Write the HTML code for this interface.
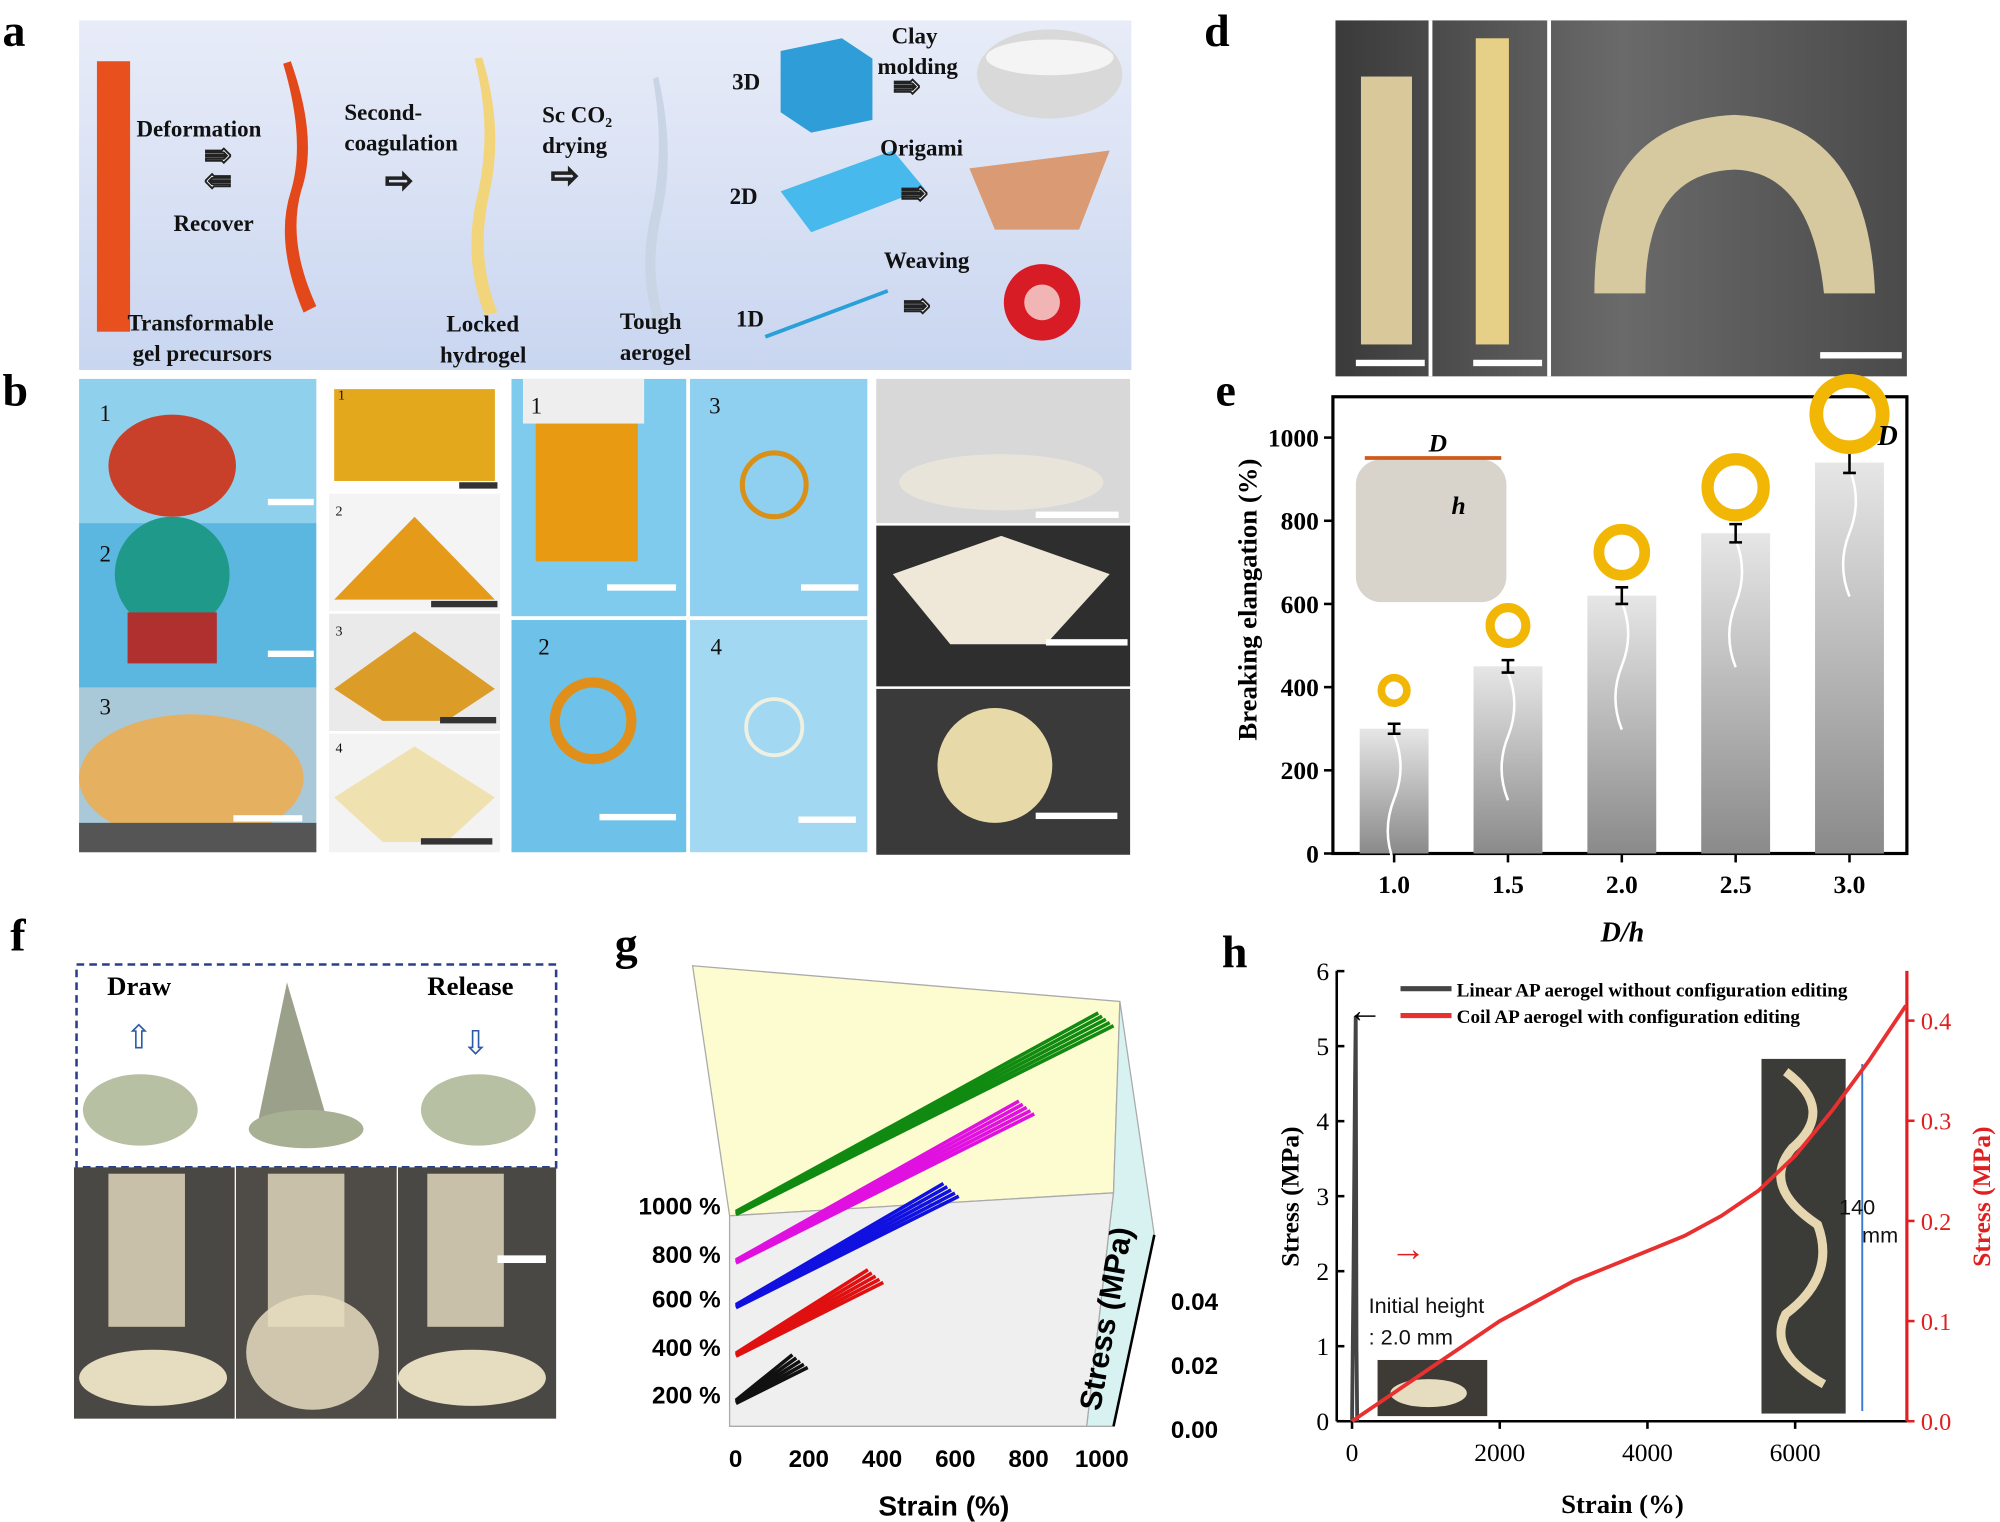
<!DOCTYPE html>
<html><head><meta charset="utf-8"><style>
html,body{margin:0;padding:0;background:#fff}
svg{display:block}
text{font-family:"Liberation Serif",serif}
.sans{font-family:"Liberation Sans",sans-serif}
</style></head><body>
<svg id="fig" width="2000" height="1522" viewBox="0 0 1568 1193" preserveAspectRatio="none" xmlns="http://www.w3.org/2000/svg">
<defs>
<linearGradient id="gA" x1="0" y1="0" x2="0" y2="1"><stop offset="0" stop-color="#e8ecf8"/><stop offset="1" stop-color="#c9d6f0"/></linearGradient>
<linearGradient id="gBar" x1="0" y1="0" x2="0" y2="1"><stop offset="0" stop-color="#e6e6e6"/><stop offset="1" stop-color="#8a8a8a"/></linearGradient>
<linearGradient id="gD" x1="0" y1="0" x2="1" y2="0"><stop offset="0" stop-color="#3a3a3a"/><stop offset="0.5" stop-color="#6a6a6a"/><stop offset="1" stop-color="#4a4a4a"/></linearGradient>
</defs>
<g font-weight="bold" font-size="36">
<text x="2" y="36">a</text><text x="2" y="318">b</text><text x="690" y="325">c</text><text x="944" y="36">d</text><text x="953" y="318">e</text><text x="8" y="745">f</text><text x="482" y="752">g</text><text x="958" y="758">h</text>
</g>
<g>
<rect x="62" y="16" width="825" height="274" fill="url(#gA)"/>
<rect x="76" y="48" width="26" height="212" fill="#e8501e"/>
<path d="M228 48 Q250 110 236 150 Q225 190 248 240 L238 245 Q215 190 228 150 Q240 110 222 50Z" fill="#e2481a"/>
<path d="M378 45 Q395 100 384 150 Q372 200 390 245 L380 247 Q362 200 375 150 Q386 100 372 46Z" fill="#f2d57a"/>
<path d="M516 60 Q530 120 518 170 Q508 215 522 255 L514 256 Q500 215 510 170 Q522 120 512 62Z" fill="#c9d4e4"/>
<polygon points="612,40 660,30 684,46 684,94 636,104 612,88" fill="#2f9ed8"/>
<polygon points="612,150 700,118 725,148 636,182" fill="#47b9ec"/>
<line x1="600" y1="264" x2="696" y2="228" stroke="#2aa0da" stroke-width="3"/>
<ellipse cx="823" cy="58" rx="57" ry="35" fill="#d9d9d9"/><ellipse cx="823" cy="45" rx="50" ry="14" fill="#f4f4f4"/>
<polygon points="760,132 870,118 846,180 780,180" fill="#d99a74"/>
<circle cx="817" cy="237" r="30" fill="#d81c26"/><circle cx="817" cy="237" r="14" fill="#f2b5b5"/>
<g font-size="18" font-weight="bold" fill="#111">
<text x="107" y="107">Deformation</text><text x="136" y="181">Recover</text>
<text x="100" y="259">Transformable</text><text x="104" y="283">gel precursors</text>
<text x="270" y="94">Second-</text><text x="270" y="118">coagulation</text>
<text x="425" y="96">Sc CO₂</text><text x="425" y="120">drying</text>
<text x="350" y="260">Locked</text><text x="345" y="284">hydrogel</text>
<text x="486" y="258">Tough</text><text x="486" y="282">aerogel</text>
<text x="574" y="70">3D</text><text x="572" y="160">2D</text><text x="577" y="256">1D</text>
<text x="699" y="34">Clay</text><text x="688" y="58">molding</text>
<text x="690" y="122">Origami</text><text x="693" y="210">Weaving</text>
</g>
<g font-size="26" fill="#fff" stroke="#222" stroke-width="1.5">
<text x="160" y="130">⇛</text><text x="160" y="150">⇚</text><text x="302" y="150">⇨</text><text x="432" y="146">⇨</text>
<text x="700" y="76">⇛</text><text x="706" y="160">⇛</text><text x="708" y="248">⇛</text>
</g>
</g>
<g>
<rect x="1047" y="16" width="448" height="279" fill="url(#gD)"/>
<rect x="1120" y="16" width="3" height="279" fill="#fff"/><rect x="1213" y="16" width="3" height="279" fill="#fff"/>
<rect x="1067" y="60" width="40" height="210" fill="#d8c89a"/>
<rect x="1157" y="30" width="26" height="240" fill="#e6cf86"/>
<path d="M1250 230 Q1250 95 1360 90 Q1465 95 1470 230 L1430 230 Q1420 135 1360 133 Q1290 135 1290 230Z" fill="#d6c9a0"/>
<g fill="#fff"><rect x="1063" y="282" width="54" height="5"/><rect x="1155" y="282" width="54" height="5"/><rect x="1427" y="276" width="64" height="5"/></g>
</g>
<g>
<rect x="62" y="297" width="186" height="113" fill="#8fd0ec"/><rect x="62" y="410" width="186" height="129" fill="#5cb7e0"/><rect x="62" y="539" width="186" height="129" fill="#a9c9d8"/>
<ellipse cx="135" cy="365" rx="50" ry="40" fill="#c9402a"/><circle cx="135" cy="450" r="45" fill="#1f9a8a"/><rect x="100" y="480" width="70" height="40" fill="#b03030"/>
<ellipse cx="150" cy="610" rx="88" ry="50" fill="#e5b060"/><rect x="62" y="645" width="186" height="23" fill="#555"/>
<rect x="258" y="297" width="134" height="88" fill="#fdfdfd"/><rect x="258" y="387" width="134" height="92" fill="#f4f4f4"/><rect x="258" y="481" width="134" height="92" fill="#eaeaea"/><rect x="258" y="575" width="134" height="93" fill="#f3f3f3"/>
<rect x="262" y="305" width="126" height="72" fill="#e3a81c"/><polygon points="262,470 325,405 388,470" fill="#e59a1a"/><polygon points="262,540 325,495 388,540 350,565 300,565" fill="#dc9c28"/><polygon points="262,625 325,585 388,625 350,660 300,660" fill="#f0e2b0"/>
<rect x="401" y="297" width="137" height="186" fill="#7fcbee"/><rect x="541" y="297" width="139" height="186" fill="#8fd0f0"/><rect x="401" y="486" width="137" height="182" fill="#6ec2ea"/><rect x="541" y="486" width="139" height="182" fill="#a3d8f2"/>
<rect x="420" y="330" width="80" height="110" fill="#e89a12"/><rect x="410" y="297" width="95" height="35" fill="#eee"/>
<circle cx="465" cy="565" r="30" fill="none" stroke="#e0901a" stroke-width="8"/><circle cx="607" cy="380" r="25" fill="none" stroke="#d89018" stroke-width="4"/><circle cx="607" cy="570" r="22" fill="none" stroke="#f0f0e0" stroke-width="3"/>
<rect x="687" y="297" width="199" height="113" fill="#d8d8d8"/><rect x="687" y="412" width="199" height="126" fill="#2e2e2e"/><rect x="687" y="540" width="199" height="130" fill="#3a3a3a"/>
<ellipse cx="785" cy="378" rx="80" ry="22" fill="#e8e4da"/><polygon points="700,450 785,420 870,450 820,505 745,505" fill="#efe8d8"/><circle cx="780" cy="600" r="45" fill="#e7d9a8"/>
<g fill="#fff"><rect x="210" y="391" width="36" height="5"/><rect x="210" y="510" width="36" height="5"/><rect x="183" y="639" width="54" height="5"/><rect x="476" y="458" width="54" height="5"/><rect x="470" y="638" width="60" height="5"/><rect x="628" y="458" width="45" height="5"/><rect x="626" y="640" width="45" height="5"/><rect x="812" y="401" width="65" height="5"/><rect x="820" y="501" width="64" height="5"/><rect x="812" y="637" width="64" height="5"/></g>
<g fill="#333"><rect x="360" y="378" width="30" height="5"/><rect x="338" y="471" width="52" height="5"/><rect x="345" y="562" width="44" height="5"/><rect x="330" y="657" width="56" height="5"/></g>
<g font-size="18" class="sans" fill="#111"><text x="78" y="330">1</text><text x="78" y="440">2</text><text x="78" y="560">3</text><text x="416" y="324">1</text><text x="556" y="324">3</text><text x="422" y="513">2</text><text x="557" y="513">4</text></g>
<g font-size="11" class="sans" fill="#111"><text x="265" y="313">1</text><text x="263" y="404">2</text><text x="263" y="498">3</text><text x="263" y="590">4</text></g>
</g>
<g id="chartE">
<rect x="1045" y="311" width="450" height="358" fill="#fff" stroke="#000" stroke-width="2.5"/>
<text x="985" y="470" font-size="21" font-weight="bold" transform="rotate(-90 985 470)" text-anchor="middle">Breaking elangation (%)</text>
<text x="1272" y="738" font-size="22" font-weight="bold" font-style="italic" text-anchor="middle">D/h</text>
<rect x="1063" y="360" width="118" height="112" rx="20" fill="#d8d4cc"/>
<text x="1120" y="354" font-size="20" font-weight="bold" font-style="italic">D</text><text x="1138" y="403" font-size="20" font-weight="bold" font-style="italic">h</text>
<line x1="1070" y1="359" x2="1177" y2="359" stroke="#d05a1a" stroke-width="3"/>
</g>
<g>
<rect x="60" y="756" width="376" height="159" fill="#fff" stroke="#2a3f8a" stroke-width="2" stroke-dasharray="6,4"/>
<text x="84" y="780" font-size="21" font-weight="bold">Draw</text><text x="335" y="780" font-size="21" font-weight="bold">Release</text>
<ellipse cx="110" cy="870" rx="45" ry="28" fill="#b8c0a4"/><ellipse cx="375" cy="870" rx="45" ry="28" fill="#b8c0a4"/>
<polygon points="225,770 260,890 200,890" fill="#9aa08a"/><ellipse cx="240" cy="885" rx="45" ry="15" fill="#a8b094"/>
<text x="98" y="822" font-size="26" fill="#2a5aa8">⇧</text><text x="362" y="826" font-size="26" fill="#2a5aa8">⇩</text>
<rect x="58" y="915" width="126" height="197" fill="#4a4844"/><rect x="185" y="915" width="126" height="197" fill="#4f4c47"/><rect x="312" y="915" width="124" height="197" fill="#4a4844"/>
<rect x="85" y="920" width="60" height="120" fill="#c8c0a8"/><rect x="210" y="920" width="60" height="120" fill="#c8c0a8"/><rect x="335" y="920" width="60" height="120" fill="#c8c0a8"/>
<ellipse cx="120" cy="1080" rx="58" ry="22" fill="#e6dcc0"/><ellipse cx="245" cy="1060" rx="52" ry="45" fill="#e6dcc0" opacity="0.85"/><ellipse cx="370" cy="1080" rx="58" ry="22" fill="#e6dcc0"/>
<rect x="390" y="984" width="38" height="6" fill="#fff"/>
</g>
<g id="chartG">
<polygon points="543,757 878,785 873,935 572,953" fill="#fdfbd0" stroke="#aaa"/>
<polygon points="572,953 873,935 852,1118 572,1118" fill="#efefef" stroke="#aaa"/>
<polygon points="878,785 905,968 873,1118 852,1118 873,935" fill="#d8f2f2" stroke="#aaa"/>
<text x="875" y="1035" font-size="24" font-weight="bold" class="sans" transform="rotate(-80 875 1035)" text-anchor="middle">Stress (MPa)</text>
<text x="740" y="1188" font-size="22" font-weight="bold" class="sans" text-anchor="middle">Strain (%)</text>
</g>
<g id="chartH">
<text x="1018" y="938" font-size="20" font-weight="bold" transform="rotate(-90 1018 938)" text-anchor="middle">Stress (MPa)</text>
<text x="1560" y="938" font-size="20" font-weight="bold" fill="#e02020" transform="rotate(-90 1560 938)" text-anchor="middle">Stress (MPa)</text>
<text x="1272" y="1186" font-size="21" font-weight="bold" text-anchor="middle">Strain (%)</text>
<rect x="1381" y="830" width="66" height="278" fill="#3b3b38"/>
<path d="M1400 840 Q1440 870 1405 900 Q1380 930 1425 960 Q1440 1000 1400 1030 Q1385 1060 1430 1085" stroke="#e6d7b0" stroke-width="7" fill="none"/>
<rect x="1080" y="1066" width="86" height="44" fill="#3e3a35"/>
<ellipse cx="1120" cy="1092" rx="30" ry="11" fill="#e6dcc0"/>
<line x1="1460" y1="834" x2="1460" y2="1106" stroke="#3a7ad0" stroke-width="1.5"/>
<text x="1456" y="952" font-size="17" class="sans" text-anchor="middle" fill="#111">140</text><text x="1474" y="974" font-size="17" class="sans" text-anchor="middle" fill="#111">mm</text>
<text x="1073" y="1029" font-size="17" class="sans" fill="#111">Initial height</text><text x="1073" y="1054" font-size="17" class="sans" fill="#111">: 2.0 mm</text>
<line x1="1098" y1="775" x2="1138" y2="775" stroke="#444" stroke-width="4"/><text x="1142" y="781" font-size="15" font-weight="bold">Linear AP aerogel without configuration editing</text>
<line x1="1098" y1="796" x2="1138" y2="796" stroke="#e83030" stroke-width="4"/><text x="1142" y="802" font-size="15" font-weight="bold">Coil AP aerogel with configuration editing</text>
</g>
</svg>
<script>
const NS='http://www.w3.org/2000/svg';
function mk(p,tag,at){const e=document.createElementNS(NS,tag);for(const k in at)e.setAttribute(k,at[k]);p.appendChild(e);return e;}
const eCategories=['1.0','1.5','2.0','2.5','3.0'];
const eValues=[300,450,620,770,940];
const eErrors=[12,15,20,22,25];
const eTicks=[0,200,400,600,800,1000];
const gE=document.getElementById('chartE');
const eY=v=>669-v*0.326; const eX=i=>1093+i*89.25;
eTicks.forEach(t=>{
 const l=mk(gE,'line',{x1:1045,x2:1038,y1:eY(t),y2:eY(t),stroke:'#000','stroke-width':2});
 
 
 const tx=mk(gE,'text',{x:1034,y:eY(t)+7,'font-size':20,'font-weight':'bold','text-anchor':'end'});tx.textContent=t;
 
 
});
eCategories.forEach((c,i)=>{
 const x=eX(i),v=eValues[i];
 const b=mk(gE,'rect',{x:x-27,y:eY(v),width:54,height:669-eY(v),fill:'url(#gBar)'});
 
 
 mk(gE,'path',{d:`M${x} ${eY(v)+5} q10 25 0 50 q-10 25 0 50`,stroke:'#fff',fill:'none','stroke-width':2});
 const er=eErrors[i];
 mk(gE,'path',{d:`M${x} ${eY(v+er)}V${eY(v-er)}M${x-5} ${eY(v+er)}h10M${x-5} ${eY(v-er)}h10`,stroke:'#000','stroke-width':2,fill:'none'});
 const r=10+i*4;
 const ring=mk(gE,'circle',{cx:x,cy:eY(v)-30-i*2,r:r,fill:'none',stroke:'#f2b705','stroke-width':6+i*1.2});
 
 
 mk(gE,'line',{x1:x,x2:x,y1:669,y2:676,stroke:'#000','stroke-width':2});
 const tx=mk(gE,'text',{x:x,y:700,'font-size':20,'font-weight':'bold','text-anchor':'middle'});tx.textContent=c;
 
 
});
mk(gE,'text',{x:1472,y:349,'font-size':22,'font-weight':'bold','font-style':'italic'}).textContent='D';
const gLevels=['200 %','400 %','600 %','800 %','1000 %'];
const gMaxStrain=[190,390,590,790,1000];
const gColors=['#111','#e01010','#1010e0','#e010e0','#108a10'];
const gXTicks=[0,200,400,600,800,1000];
const gZTicks=['0.00','0.02','0.04'];
const G=document.getElementById('chartG');
const gBase=[1100,1063,1025,990,952];
const gPX=s=>577+s*0.296;
gLevels.forEach((lv,i)=>{
 const t=mk(G,'text',{x:565,y:gBase[i]+0,'font-size':19,'font-weight':'bold','class':'sans','text-anchor':'end'});t.textContent=lv;
 
 
 const m=gMaxStrain[i];
 for(let k=0;k<5;k++){
  const p=mk(G,'line',{x1:gPX(0),y1:gBase[i]-k*0.6,x2:gPX(m)-k*3,y2:gBase[i]-m*0.148-k*2.5,stroke:gColors[i],'stroke-width':2.8});
  
  
 }
});
gXTicks.forEach(t=>{const tx=mk(G,'text',{x:gPX(t)*0.97+17,y:1150,'font-size':19,'font-weight':'bold','class':'sans','text-anchor':'middle'});tx.textContent=t;
 
 });
gZTicks.forEach((t,i)=>{const tx=mk(G,'text',{x:918,y:1127-i*50,'font-size':19,'font-weight':'bold','class':'sans'});tx.textContent=t;
 
 });
mk(G,'path',{d:'M905 968 L873 1118',stroke:'#000','stroke-width':2,fill:'none'});
const hLeftTicks=[0,1,2,3,4,5,6];
const hRightTicks=[0.0,0.1,0.2,0.3,0.4];
const hXTicks=[0,2000,4000,6000];
const hBlackStrain=[0,20,40,50,60,70];
const hBlackStress=[0,2.0,4.5,5.4,1.0,0];
const hRedStrain=[0,500,1000,1500,2000,2500,3000,3500,4000,4500,5000,5500,6000,6500,7000,7500];
const hRedStress=[0,0.025,0.05,0.075,0.1,0.12,0.14,0.155,0.17,0.185,0.205,0.23,0.265,0.31,0.36,0.415];
const H=document.getElementById('chartH');
const hX=s=>1060+s*0.0579, hYL=v=>1114-v*58.8, hYR=v=>1114-v*785;
mk(H,'line',{x1:1048,y1:761,x2:1048,y2:1114,stroke:'#000','stroke-width':2});
mk(H,'line',{x1:1048,y1:1114,x2:1495,y2:1114,stroke:'#000','stroke-width':2});
mk(H,'line',{x1:1495,y1:761,x2:1495,y2:1114,stroke:'#e02020','stroke-width':2.5});
hLeftTicks.forEach(t=>{mk(H,'line',{x1:1048,x2:1054,y1:hYL(t),y2:hYL(t),stroke:'#000','stroke-width':2});
 const tx=mk(H,'text',{x:1042,y:hYL(t)+7,'font-size':20,'text-anchor':'end'});tx.textContent=t;
 
 });
hRightTicks.forEach(t=>{mk(H,'line',{x1:1495,x2:1501,y1:hYR(t),y2:hYR(t),stroke:'#e02020','stroke-width':2});
 const tx=mk(H,'text',{x:1506,y:hYR(t)+7,'font-size':19,fill:'#e02020'});tx.textContent=t.toFixed(1);
 
 });
hXTicks.forEach(t=>{mk(H,'line',{x1:hX(t),x2:hX(t),y1:1114,y2:1120,stroke:'#000','stroke-width':2});
 const tx=mk(H,'text',{x:hX(t),y:1145,'font-size':20,'text-anchor':'middle'});tx.textContent=t;
 
 });
const bl=mk(H,'polyline',{points:hBlackStrain.map((s,i)=>hX(s)+','+hYL(hBlackStress[i])).join(' '),fill:'none',stroke:'#444','stroke-width':3});


const rl=mk(H,'polyline',{points:hRedStrain.map((s,i)=>hX(s)+','+hYR(hRedStress[i])).join(' '),fill:'none',stroke:'#e83030','stroke-width':3});


mk(H,'text',{x:1056,y:801,'font-size':28,'font-weight':'bold'}).textContent='←';
mk(H,'text',{x:1090,y:988,'font-size':28,'font-weight':'bold',fill:'#e02020'}).textContent='→';
</script>
</body></html>
